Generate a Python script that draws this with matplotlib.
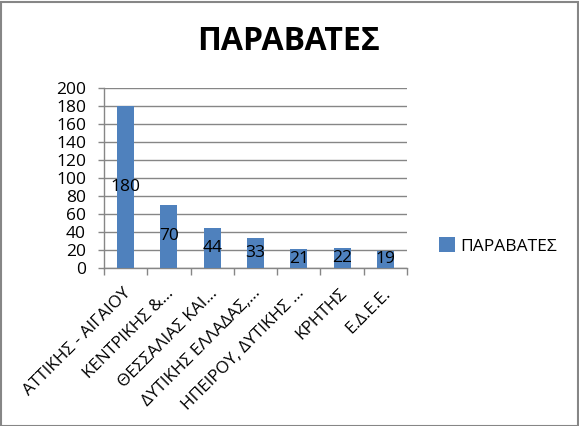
import matplotlib
matplotlib.use("Agg")
import matplotlib.pyplot as plt
from matplotlib.patches import Rectangle
from matplotlib.transforms import ScaledTranslation

plt.rcParams['font.family'] = ['Open Sans', 'DejaVu Sans']

categories = ["ΑΤΤΙΚΗΣ - ΑΙΓΑΙΟΥ", "ΚΕΝΤΡΙΚΗΣ &…", "ΘΕΣΣΑΛΙΑΣ ΚΑΙ…",
              "ΔΥΤΙΚΗΣ ΕΛΛΑΔΑΣ,…", "ΗΠΕΙΡΟΥ, ΔΥΤΙΚΗΣ …", "ΚΡΗΤΗΣ", "Ε.Δ.Ε.Ε."]
values = [180, 70, 44, 33, 21, 22, 19]
series_name = "ΠΑΡΑΒΑΤΕΣ"
title = "ΠΑΡΑΒΑΤΕΣ"
yticks = [0, 20, 40, 60, 80, 100, 120, 140, 160, 180, 200]

W, H = 579, 426
fig = plt.figure(figsize=(W / 100, H / 100), dpi=100)
ax = fig.add_axes([104 / W, 1 - 268 / H, (407 - 104) / W, (268 - 88) / H])

bar_color = "#4F81BD"
grid_color = "#868686"
x = list(range(len(categories)))
ax.bar(x, values, width=0.39, color=bar_color, label=series_name, zorder=3)

for xi, v in zip(x, values):
    ax.text(xi, v / 2, str(v), ha="center", va="center", fontsize=12.5, color="black", zorder=4)

ax.set_xlim(-0.5, len(categories) - 0.5)
ax.set_ylim(0, 200)
ax.set_yticks(yticks)
ax.set_yticklabels([str(t) for t in yticks], fontsize=12.5)
ax.yaxis.grid(True, color=grid_color, linewidth=1.0, zorder=0)
ax.set_axisbelow(True)

ax.set_xticks(x)
ax.set_xticklabels(categories, rotation=45, ha="right", va="top", rotation_mode="anchor", fontsize=12.3)
ax.tick_params(axis="x", which="major", length=0, pad=6)
ax.set_xticks([i + 0.5 for i in range(-1, len(categories))], minor=True)
ax.tick_params(axis="x", which="minor", length=5, color=grid_color, width=1.0)
ax.tick_params(axis="y", length=4.5, color=grid_color, width=1.0, pad=8.5)

offset = ScaledTranslation(-3 / 100, -9 / 100, fig.dpi_scale_trans)
for lab in ax.get_xticklabels():
    lab.set_transform(lab.get_transform() + offset)

for s in ["top", "right"]:
    ax.spines[s].set_visible(False)
for s in ["left", "bottom"]:
    ax.spines[s].set_color(grid_color)
    ax.spines[s].set_linewidth(1.0)

fig.text(289 / W, 1 - 42 / H, title, ha="center", va="center", fontsize=23, fontweight="bold")

handles, labels = ax.get_legend_handles_labels()
fig.legend(handles, labels, loc="center left", bbox_to_anchor=(432 / W, 1 - 246 / H),
           frameon=False, fontsize=12.5, handlelength=0.9, handleheight=0.9, handletextpad=0.3,
           borderaxespad=0)

fig.add_artist(Rectangle((0.5 / W, 0.5 / H), 1 - 2 / W, 1 - 2 / H, transform=fig.transFigure,
                         fill=False, edgecolor="#868686", linewidth=1.5))

fig.savefig("out.png", dpi=100)
